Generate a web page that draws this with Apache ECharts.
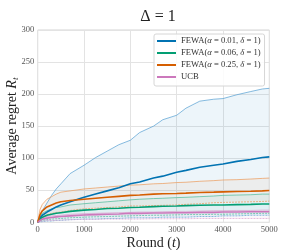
<!DOCTYPE html>
<html><head><meta charset="utf-8">
<script src="https://cdn.jsdelivr.net/npm/echarts@6/dist/echarts.min.js"></script>
<style>html,body{margin:0;padding:0;background:#fff}#c{width:300px;height:250px}</style>
</head><body><div id="c"></div>
<script>
var X = [0,50,100,200,300,400,500,700,1000,1250,1500,1750,2000,2200,2500,2700,3000,3200,3500,3800,4000,4300,4600,4850,5000];
var blueUp   = [0,10,18,30,42,52,60,76,89,101,111,121,128,140,150,160,167,178,189,192,193,199,204,208,209];
var blueMean = [0,7,11,16,20,24,27,32,39,44,49,54,60,63,69,72,78,81,86,89,91,95,98,101,102];
var blueLow  = [0,0.5,1,2,2,3,3,4,5,5,6,6,7,7,7,8,8,8,9,9,10,10,11,11,11];
var greenUp   = [0,9,14,18,21,23,24,27,29,30.5,32,33.5,35,36,37,37.5,38.5,39,40,41,42,42.5,43,44,44];
var greenMean = [0,5,8,11,12.5,14,15,17,19,20,21.5,22,23,23.5,24.5,25,25.5,26,26.5,27,27,27.5,28,28.5,28.5];
var greenLow  = [0,1.5,3,4,5,5.5,6,7,8,8.5,9,9.5,10,10.5,11,11,11.5,12,12,12.5,12.5,13,13.5,14,14];
var orangeUp   = [0,20,28,36,40,44,47,49,52,53.5,55,56.5,58,58.5,60,60.5,62,62.5,64,65,66,66.5,67.5,68.5,69];
var orangeMean = [0,12,18,24,27,30,32,34,36,37.5,39,40.5,42,42.5,44,44.5,45,45.5,46.5,47,47.5,48,48.5,49,49.5];
var orangeLow  = [0,5,8,12,14,15.5,16,18.5,21,22,23,24,25.5,25.5,26,26.5,27,28,29,30.5,31,31.5,32,32.5,33];
var ucbUp   = [0,4,7,9,10,10.5,11,12.5,13.5,14,14.5,15,15.5,16,16,16.5,17,17,17.5,18,18,18.5,18.5,19,19];
var ucbMean = [0,3,5,6.5,7.5,8.5,9,10,11.5,12,12.5,13,14,14,14.5,14.5,15,15,15.5,15.5,16,16,16.5,16.5,16.5];
var ucbLow  = [0,1,2,2.5,3,3,3.5,4,4.5,4.5,5,5,5,5,5.5,5.5,5.5,5.5,6,6,6,6,6,6,6];
var xTicks = [0,1000,2000,3000,4000,5000];
var yTicks = [0,50,100,150,200,250,300];

var groups = [
  {name:'FEWA(α = 0.01, δ = 1)', rich:'{n|FEWA(}{i|α}{n| = 0.01, }{i|δ}{n| = 1)}', color:'#0173b2', band:'#56a0d3', fill:0.07, up:blueUp, mean:blueMean, low:blueLow},
  {name:'FEWA(α = 0.06, δ = 1)', rich:'{n|FEWA(}{i|α}{n| = 0.06, }{i|δ}{n| = 1)}', color:'#029e73', band:'#4dbb99', fill:0.06, up:greenUp, mean:greenMean, low:greenLow},
  {name:'FEWA(α = 0.25, δ = 1)', rich:'{n|FEWA(}{i|α}{n| = 0.25, }{i|δ}{n| = 1)}', color:'#d55e00', band:'#ec9a5a', fill:0.05, up:orangeUp, mean:orangeMean, low:orangeLow},
  {name:'UCB', rich:'{n|UCB}', color:'#cc78bc', band:'#dba3d0', fill:0.06, up:ucbUp, mean:ucbMean, low:ucbLow}
];
function pairs(v){ return X.map(function(x,i){return [x,v[i]];}); }
var series = [];
groups.forEach(function(g,k){
  series.push({type:'custom', silent:true, z:1, clip:true, data:[[0,0]],
    renderItem:function(params, api){
      var pts=[], i;
      for(i=0;i<X.length;i++) pts.push(api.coord([X[i], g.up[i]]));
      for(i=X.length-1;i>=0;i--) pts.push(api.coord([X[i], g.low[i]]));
      return {type:'polygon', shape:{points:pts}, style:{fill:g.color, opacity:g.fill}};
    }});
  series.push({type:'line', data:pairs(g.up), symbol:'none', lineStyle:{color:g.band, width:0.8, opacity:0.9}, silent:true, z:2});
  series.push({type:'line', data:pairs(g.low), symbol:'none', lineStyle:{color:g.band, width:0.8, opacity:0.9, type:[2,1]}, silent:true, z:2});
});
groups.forEach(function(g){
  series.push({name:g.name, type:'line', data:pairs(g.mean), symbol:'none', lineStyle:{color:g.color, width:1.6}, itemStyle:{color:g.color}, z:5});
});
var serif = '"Liberation Serif","DejaVu Serif",serif';
var chart = echarts.init(document.getElementById('c'), null, {renderer:'canvas'});
chart.setOption({
  animation:false,
  title:{text:'Δ = 1', left:153, top:4, textAlign:'center', textStyle:{fontFamily:serif, fontSize:16, fontWeight:'normal', color:'#222'}},
  grid:{left:37.7, right:30.7, top:30, bottom:27.7, containLabel:false, outerBoundsMode:'none', show:true, borderColor:'#d4d4d4', borderWidth:1},
  legend:{
    data:groups.map(function(g){return g.name;}),
    left:154, top:34, orient:'vertical', itemWidth:19, itemHeight:2, itemGap:2, icon:'rect',
    padding:[2,4,4,3], backgroundColor:'rgba(255,255,255,0.85)', borderColor:'#d6d6d6', borderWidth:1, borderRadius:2,
    formatter:function(n){ for(var i=0;i<groups.length;i++){ if(groups[i].name===n) return groups[i].rich; } return n; },
    textStyle:{fontFamily:serif, fontSize:8.6, color:'#333', lineHeight:10,
      rich:{n:{fontFamily:serif, fontSize:8.6, color:'#333', lineHeight:10}, i:{fontFamily:serif, fontSize:8.6, fontStyle:'italic', color:'#333', lineHeight:10}}}
  },
  xAxis:{type:'value', min:0, max:5000, interval:1000,
    name:'Round ({i|t})', nameLocation:'middle', nameGap:14, nameMoveOverlap:false,
    nameTextStyle:{fontFamily:serif, fontSize:14, color:'#222', rich:{i:{fontFamily:serif, fontSize:14, fontStyle:'italic', color:'#222'}}},
    axisLine:{show:false}, axisTick:{show:false},
    axisLabel:{fontFamily:serif, fontSize:8.5, color:'#555', margin:3, formatter:function(v){return xTicks.indexOf(v)>=0?String(v):'';}},
    splitLine:{lineStyle:{color:'#e3e3e3', width:1}}},
  yAxis:{type:'value', min:0, max:300, interval:50,
    name:'Average regret {i|R}{s|t}', nameLocation:'middle', nameGap:18, nameMoveOverlap:false,
    nameTextStyle:{fontFamily:serif, fontSize:14, color:'#222', rich:{i:{fontFamily:serif, fontSize:14, fontStyle:'italic', color:'#222'}, s:{fontFamily:serif, fontSize:9, fontStyle:'italic', color:'#222', verticalAlign:'bottom', padding:[6,0,0,0]}}},
    axisLine:{show:false}, axisTick:{show:false},
    axisLabel:{fontFamily:serif, fontSize:8.5, color:'#555', margin:3.5, formatter:function(v){return yTicks.indexOf(v)>=0?String(v):'';}},
    splitLine:{lineStyle:{color:'#e3e3e3', width:1}}},
  series:series
});
</script></body></html>
